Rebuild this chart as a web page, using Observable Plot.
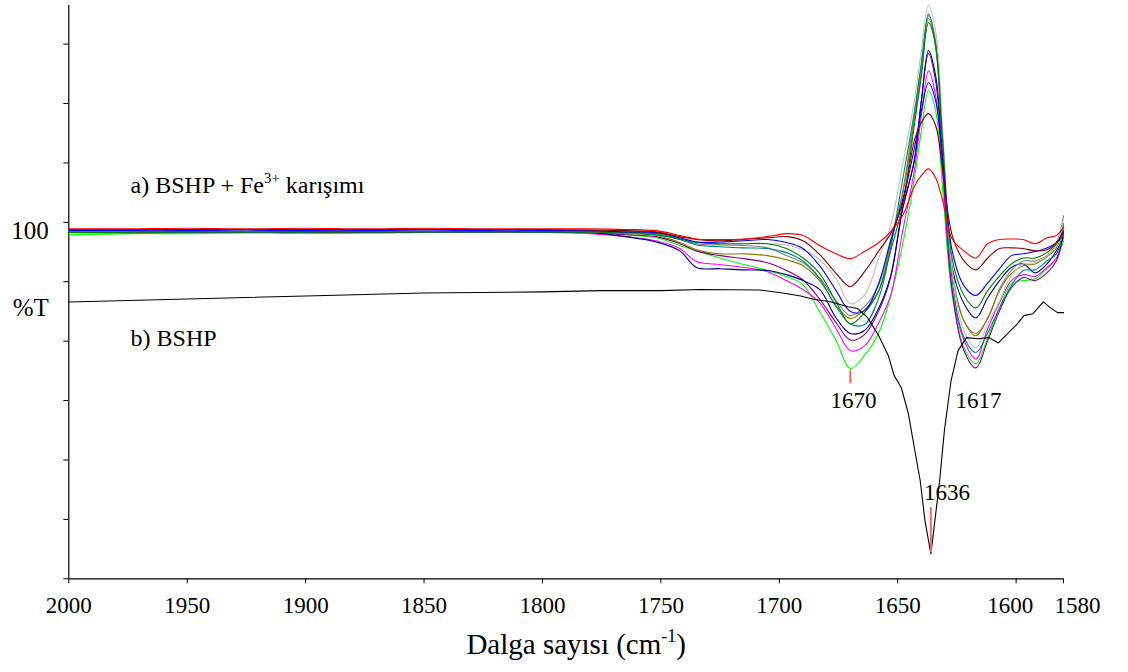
<!DOCTYPE html>
<html>
<head>
<meta charset="utf-8">
<script src="https://cdn.jsdelivr.net/npm/d3@7"></script>
<script src="https://cdn.jsdelivr.net/npm/@observablehq/plot@0.6"></script>
<style>
  html, body { margin: 0; padding: 0; background: #fff; }
  #chart { width: 1128px; height: 672px; }
  #chart svg, #chart svg text { font-family: "Liberation Serif", "DejaVu Serif", serif !important; }
</style>
</head>
<body>
<div id="chart"></div>
<script>
// Wavenumber grid (cm-1) for the BSHP + Fe3+ mixture spectra
const wavenumbers = [2000,1975,1950,1925,1900,1875,1850,1825,1800,1780,1765,1752,1742,1735,1725,1715,1705,1697,1690,1683,1676,1670,1664,1658,1653,1648,1643,1640,1637,1634,1631,1627,1622,1617,1612,1607,1602,1597,1592,1587,1583,1580];

// %T values of each mixture spectrum (one per colour)
const red      = [98.9,98.9,99.0,98.9,99.0,98.9,99.0,98.9,98.9, 98.9,98.8,98.6,97.8,97.2,97.1,97.2,97.6,98.1,97.8, 96.1,94.7,93.9,95.1,96.6,98.4, 101.1,106.0,107.9,109.0,107.5,103.6,97.2,95.2,94.0, 96.4,97.1,97.2,97.1,96.4,97.4,97.8,99.1];
const maroon   = [98.8,98.8,98.8,98.8,98.8,98.8,98.8,98.8,98.8, 98.7,98.6,98.4,97.6,97.1,96.9,97.1,97.4,97.6,96.9, 94.6,91.4,89.2,91.7,95.2,98.1, 103.1,113.7,116.8,118.3,116.3,108.7,97.8,93.5,92.0, 94.0,95.6,95.7,95.6,95.2,95.4,96.6,98.3];
const blue     = [98.6,98.6,98.6,98.7,98.6,98.6,98.7,98.6,98.6, 98.6,98.4,98.3,97.4,96.7,96.7,96.9,97.1,96.6,95.6, 92.7,88.5,85.0,85.1,89.8,96.9, 103.6,112.4,118.8,123.5,120.5,110.4,95.2,89.3,87.7, 89.8,92.2,94.4,94.7,95.1,95.7,96.6,98.6];
const green    = [98.3,98.3,98.4,98.4,98.4,98.4,98.4,98.5,98.4, 98.4,98.3,98.1,97.2,96.6,96.4,96.4,96.4,95.6,94.0, 91.4,86.6,82.9,84.8,88.5,95.2, 102.8,116.3,124.7,133.6,129.7,113.7,93.9,87.7,85.6, 88.5,91.0,93.0,94.0,94.0,94.9,96.4,98.1];
const silver   = [98.6,98.6,98.6,98.6,98.7,98.6,98.6,98.6,98.6, 98.6,98.4,98.3,97.4,96.7,96.6,96.4,96.4,96.2,95.4, 93.7,90.5,86.3,87.8,94.0,99.4, 109.5,120.5,128.9,136.5,132.3,115.4,91.9,81.8,78.9, 82.9,86.8,91.0,93.0,93.2,94.4,96.1,100.6];
const teal     = [98.4,98.4,98.4,98.4,98.4,98.5,98.4,98.4,98.4, 98.4,98.3,97.9,97.1,96.2,95.9,95.7,95.6,94.9,93.5, 90.5,85.8,82.9,82.8,87.3,95.7, 107.0,118.5,126.9,135.1,129.7,112.1,90.2,80.6,78.1, 81.4,85.6,89.3,91.9,92.0,93.5,94.7,99.4];
const olive    = [98.4,98.4,98.4,98.4,98.4,98.4,98.4,98.4,98.4, 98.4,98.1,97.8,96.6,95.4,94.7,94.7,94.4,93.7,92.7, 90.2,86.0,83.8,85.3,88.5,96.4, 104.5,117.1,125.5,134.3,129.7,112.9,91.5,83.4,80.9, 83.9,88.5,91.4,92.7,93.0,94.2,95.7,99.8];
const gray     = [98.5,98.5,98.5,98.6,98.5,98.5,98.6,98.5,98.5, 98.4,98.3,98.1,97.2,96.4,96.2,96.1,95.7,94.4,93.2, 90.7,86.8,84.3,85.8,89.5,96.9, 105.0,118.0,126.4,134.8,130.6,113.7,91.9,83.4,81.3, 83.8,88.8,91.9,93.5,93.5,94.4,96.4,101.1];
const navy     = [98.3,98.3,98.3,98.3,98.3,98.3,98.3,98.4,98.3, 98.3,97.6,96.7,95.2,92.4,92.2,92.0,91.9,91.2,90.2, 88.7,83.9,81.3,81.8,85.6,91.0, 102.3,110.4,120.5,128.9,124.7,111.2,92.4,86.3,83.9, 87.3,90.2,92.4,93.0,91.5,93.0,95.2,97.4];
const purple   = [98.3,98.3,98.3,98.3,98.2,98.3,98.3,98.3,98.3, 98.3,97.9,97.6,96.4,95.2,94.4,93.9,93.2,91.9,90.3, 87.1,83.1,80.2,81.1,85.1,90.7, 102.0,110.4,120.5,128.4,123.8,109.5,88.5,78.4,75.5, 80.1,85.1,89.0,90.7,90.2,91.5,93.5,98.1];
const magenta  = [98.3,98.2,98.3,98.3,98.3,98.2,98.3,98.3,98.3, 98.1,97.6,96.9,95.6,93.4,92.9,92.4,91.7,90.2,88.7, 86.5,82.1,78.4,79.2,83.1,87.7, 98.3,108.7,118.0,125.5,121.3,107.9,88.5,80.1,77.0, 82.1,86.5,90.2,91.2,90.9,92.4,94.0,98.3];
const lime     = [97.9,98.1,98.1,98.2,98.3,98.3,98.3,98.3,98.3, 98.3,97.9,97.4,96.1,95.2,94.0,92.9,91.9,90.9,89.5, 85.0,80.1,75.4,77.6,81.4,87.5, 96.1,107.3,115.4,122.2,118.8,105.3,87.7,78.9,76.2, 80.6,85.6,89.7,90.2,90.5,92.2,93.9,96.9];

// BSHP spectrum (black)
const bshpWavenumbers = [2000,1950,1900,1850,1800,1775,1750,1733,1708,1700,1691,1686,1678,1671,1667,1663,1658,1654,1651.5,1648.5,1645.5,1643,1640.5,1638.5,1636,1634.3,1632.3,1630.3,1627.5,1624.5,1621,1616,1611.5,1607.5,1603.5,1599.5,1596.7,1593,1588.5,1585.5,1582.5,1580];
const bshpT = [86.6,87.1,87.6,88.1,88.3,88.5,88.5,88.7,88.6,88.2,87.6,87.1,86.6,85.8,85.5,84.1,80.9,77.6,74.2,72.2,67.8,62.1,56.5,49.8,44.2,49.8,56.5,64.9,73.3,78.4,80.6,80.4,80.6,79.7,81.3,82.9,84.3,84.6,86.6,85.6,84.8,84.8];

// Axis ticks
const xTickValues = [2000,1950,1900,1850,1800,1750,1700,1650,1600,1580];
const xTickLabels = ["2000","1950","1900","1850","1800","1750","1700","1650","1600","1580"];
const yTickValues = [40,50,60,70,80,90,100,110,120,130];

// Annotations
const peakLabels = [
  {wn: 1668.7, T: 70.0, label: "1670"},
  {wn: 1615.9, T: 70.0, label: "1617"},
  {wn: 1629.2, T: 54.5, label: "1636"}
];
const peakMarkers = [
  {wn: 1670, T1: 75.1, T2: 72.8},
  {wn: 1636, T1: 52.0, T2: 44.4}
];
const seriesLabels = [
  {wn: 1973.9, T: 106.3, label: "a) BSHP + Fe^{3+} karışımı"},
  {wn: 1973.9, T: 80.4, label: "b) BSHP"}
];
const yLabels = [
  {T: 98.6, label: "100"},
  {T: 85.6, label: "%T"}
];
const xTitle = "Dalga sayısı (cm^{-1})";

const FONT = "Liberation Serif";

const mixture = [
  {name: "lime", color: "#00ff00", values: lime},
  {name: "magenta", color: "#ff00ff", values: magenta},
  {name: "purple", color: "#800080", values: purple},
  {name: "navy", color: "#000080", values: navy},
  {name: "gray", color: "#808080", values: gray},
  {name: "olive", color: "#808000", values: olive},
  {name: "teal", color: "#008080", values: teal},
  {name: "silver", color: "#c0c0c0", values: silver},
  {name: "green", color: "#008000", values: green},
  {name: "blue", color: "#0000ff", values: blue},
  {name: "maroon", color: "#800000", values: maroon},
  {name: "red", color: "#ff0000", values: red}
];

const lineMarks = mixture.map(s =>
  Plot.line(wavenumbers.map((w, i) => ({wn: w, T: s.values[i]})),
    {x: "wn", y: "T", stroke: s.color, strokeWidth: 1.1, curve: "catmull-rom"})
);
const bshpRows = bshpWavenumbers.map((w, i) => ({wn: w, T: bshpT[i]}));
const xTickRows = xTickValues.map((v, i) => ({wn: v, label: xTickLabels[i]}));

const chart = Plot.plot({
  width: 1128,
  height: 672,
  marginLeft: 68.3,
  marginRight: 65,
  marginTop: 5,
  marginBottom: 93.7,
  x: {domain: [2000, 1580], axis: null, label: null},
  y: {domain: [40, 136.5], axis: null, label: null},
  style: {fontFamily: FONT, background: "#fff", color: "#000", overflow: "visible"},
  marks: [
    Plot.axisX({ticks: xTickValues, tickSize: 5, tickFormat: () => "", anchor: "bottom", stroke: "#000", label: null}),
    Plot.axisY({ticks: yTickValues, tickSize: 5, tickFormat: () => "", anchor: "left", stroke: "#000", label: null}),
    Plot.ruleX([2000], {stroke: "#000", strokeWidth: 1.2}),
    Plot.ruleY([40], {stroke: "#000", strokeWidth: 1.2}),
    Plot.text(xTickRows.filter(d => d.wn !== 1580 && d.wn !== 1600), {x: "wn", y: 40, text: "label", dy: 27, fontSize: 23, fontFamily: FONT, fill: "#000"}),
    Plot.text(xTickRows.filter(d => d.wn === 1600), {x: "wn", y: 40, text: "label", dy: 27, dx: -6, fontSize: 23, fontFamily: FONT, fill: "#000"}),
    Plot.text(xTickRows.filter(d => d.wn === 1580), {x: "wn", y: 40, text: "label", dy: 27, dx: 14, fontSize: 23, fontFamily: FONT, fill: "#000"}),
    ...lineMarks,
    Plot.line(bshpRows, {x: "wn", y: "T", stroke: "#000", strokeWidth: 1.1}),
    Plot.ruleX(peakMarkers, {x: "wn", y1: "T1", y2: "T2", stroke: "#f26b6b", strokeWidth: 2}),
    Plot.text(peakLabels, {x: "wn", y: "T", text: "label", fontSize: 23, fontFamily: FONT, fill: "#000"}),
    Plot.text(seriesLabels, {x: "wn", y: "T", text: "label", textAnchor: "start", fontSize: 24, fontFamily: FONT, fill: "#000"}),
    Plot.text(yLabels, {x: 2000, y: "T", text: "label", textAnchor: "end", dx: -20, fontSize: 25, fontFamily: FONT, fill: "#000"}),
    Plot.text([xTitle], {text: d => d, frameAnchor: "bottom", dy: 75, dx: 10, fontSize: 29, fontFamily: FONT, fill: "#000"})
  ]
});

// Turn ^{...} into superscript tspans
function applySuperscripts(svg) {
  svg.querySelectorAll("text").forEach(t => {
    const s = t.textContent;
    if (!s.includes("^{")) return;
    let base = 23;
    let p = t;
    while (p && p !== svg) {
      const fs = p.getAttribute && p.getAttribute("font-size");
      if (fs) { base = parseFloat(fs); break; }
      p = p.parentNode;
    }
    const supSize = base * 0.62;
    const shift = base * 0.42;
    const parts = s.split(/(\^\{[^}]*\})/);
    while (t.firstChild) t.removeChild(t.firstChild);
    let raised = false;
    for (const part of parts) {
      if (!part) continue;
      const ts = document.createElementNS("http://www.w3.org/2000/svg", "tspan");
      if (part.startsWith("^{")) {
        ts.textContent = part.slice(2, -1);
        ts.setAttribute("font-size", supSize);
        ts.setAttribute("dy", -shift);
        raised = true;
      } else {
        ts.textContent = part;
        if (raised) { ts.setAttribute("dy", shift); raised = false; }
      }
      t.appendChild(ts);
    }
  });
}
const svgEl = chart.tagName.toLowerCase() === "svg" ? chart : chart.querySelector("svg");
svgEl.setAttribute("font-family", FONT);
applySuperscripts(svgEl);
document.getElementById("chart").appendChild(chart);
</script>
</body>
</html>
